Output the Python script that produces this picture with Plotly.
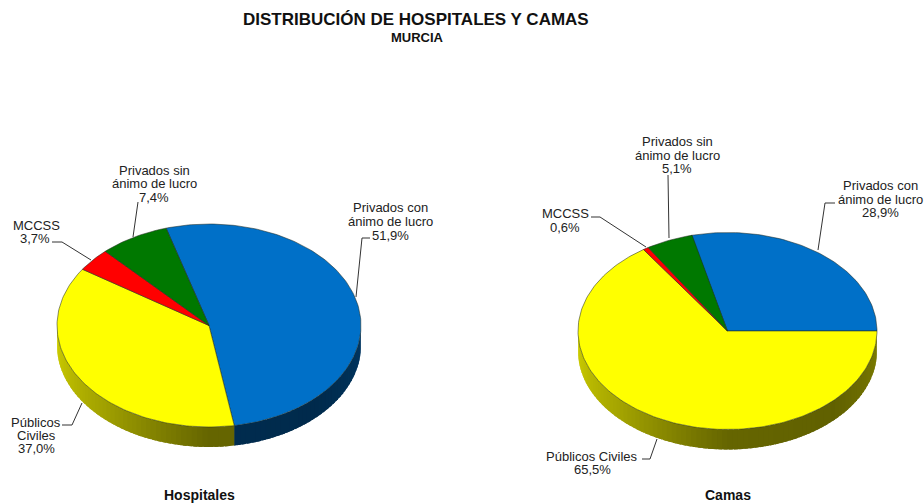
import numpy as np
import plotly.graph_objects as go

# ---- data ----
hospitales = [51.9, 37.0, 3.7, 7.4]
camas = [28.9, 65.5, 0.6, 5.1]
categorias = ["Privados con ánimo de lucro", "Públicos Civiles", "MCCSS", "Privados sin ánimo de lucro"]
colores = [(0, 112, 200), (255, 255, 0), (255, 0, 0), (0, 120, 0)]

# ---- text layout: (text, x, y) ----
FONT = "Liberation Sans, Arial, sans-serif"
etiquetas = [
    ("Privados con", 390, 207), ("ánimo de lucro", 390, 221), ("51,9%", 390, 235),
    ("Privados sin", 154, 170), ("ánimo de lucro", 154, 183), ("7,4%", 154, 197),
    ("MCCSS", 36, 225), ("3,7%", 35, 238),
    ("Públicos", 36, 422), ("Civiles", 36, 435), ("37,0%", 36, 448),
    ("Privados con", 880, 185), ("ánimo de lucro", 880, 199), ("28,9%", 880, 212),
    ("Privados sin", 677, 141), ("ánimo de lucro", 677, 155), ("5,1%", 677, 168),
    ("MCCSS", 565, 213), ("0,6%", 565, 227),
    ("Públicos Civiles", 592, 456), ("65,5%", 592, 469),
]
guias = [
    [(370, 238), (362, 238), (356, 297)],
    [(138, 202), (133, 237)],
    [(52, 242), (62, 242), (91, 260)],
    [(62, 425), (72, 425), (82, 403)],
    [(835, 203), (825, 203), (818, 250)],
    [(668, 175), (669, 238)],
    [(591, 217), (600, 217), (646, 247)],
    [(642, 459), (650, 459), (657, 439)],
]

fig = go.Figure()


def shade(a):
    # lighting of the pie's rim by angle in degrees (0 = east, -180 = west)
    return np.interp(a, [-180, -135, -90, -45, 0], [0.82, 0.64, 0.40, 0.38, 0.50])


def pie(values, cx, cy, rx, ry, depth, start):
    ang = [start]
    for v in values:
        ang.append(ang[-1] - v * 3.6)
    # rim: each strip runs a little under the next one so no seams show
    for i, c in enumerate(colores):
        a0, a1 = ang[i], ang[i + 1]
        for lo, hi in [(-180, 0), (-540, -360)]:
            s0, s1 = max(a1, lo), min(a0, hi)
            if s1 <= s0:
                continue
            edges = np.arange(s1, s0 - 1e-9, -2.0)
            edges = np.append(edges, s0) if edges[-1] > s0 else edges
            for e0, e1 in zip(edges[:-1], edges[1:]):
                t = np.radians(np.linspace(e0, max(e1 - 1.5, s0), 5))
                x = cx + rx * np.cos(t)
                y = cy - ry * np.sin(t)
                xs = np.r_[x, x[::-1], x[0]]
                ys = np.r_[y, y[::-1] + depth, y[0]]
                b = shade(((e0 + e1) / 2 - lo) + -180)
                col = "rgb(%d,%d,%d)" % tuple(int(k * b) for k in c)
                fig.add_trace(go.Scatter(x=xs, y=ys, mode="lines", fill="toself", fillcolor=col,
                                         line=dict(color=col, width=0), hoverinfo="skip", showlegend=False))
    # top
    for i, c in enumerate(colores):
        t = np.radians(np.linspace(ang[i], ang[i + 1], max(int(values[i] * 3), 4)))
        xs = np.r_[cx, cx + rx * np.cos(t), cx]
        ys = np.r_[cy, cy - ry * np.sin(t), cy]
        fig.add_trace(go.Scatter(x=xs, y=ys, mode="lines", fill="toself", fillcolor="rgb(%d,%d,%d)" % c,
                                 line=dict(color="rgba(30,40,30,0.75)", width=0.7),
                                 name=categorias[i], text="%.1f%%" % values[i], hoverinfo="name+text", showlegend=False))


pie(hospitales, 209, 325.5, 152, 101.5, 20, 106.4)
pie(camas, 727.5, 331, 149.5, 98.5, 20, 104.04)

for g in guias:
    fig.add_trace(go.Scatter(x=[p[0] for p in g], y=[p[1] for p in g], mode="lines",
                             line=dict(color="#333333", width=1), hoverinfo="skip", showlegend=False))


def texto(t, x, y, size, bold=False, color="#222222"):
    fig.add_annotation(x=x, y=y, text="<b>%s</b>" % t if bold else t, showarrow=False,
                       xanchor="center", yanchor="middle",
                       font=dict(family=FONT, size=size, color=color))


for t, x, y in etiquetas:
    texto(t, x, y, 13)
texto("DISTRIBUCIÓN DE HOSPITALES Y CAMAS", 416, 19, 17, True, "#111111")
texto("MURCIA", 417, 37, 13, True, "#111111")
texto("Hospitales", 199, 495, 14, True, "#111111")
texto("Camas", 728, 495, 14, True, "#111111")

fig.update_layout(
    width=924, height=504, margin=dict(l=0, r=0, t=0, b=0),
    paper_bgcolor="white", plot_bgcolor="white", showlegend=False,
    xaxis=dict(range=[0, 924], visible=False, fixedrange=True),
    yaxis=dict(range=[504, 0], visible=False, fixedrange=True),
)
# remove the page's default 8px body margin so the figure fills the window
fig.write_html("out.html", config={"displayModeBar": False},
               post_script="document.body.style.margin='0';document.body.style.overflow='hidden';")
